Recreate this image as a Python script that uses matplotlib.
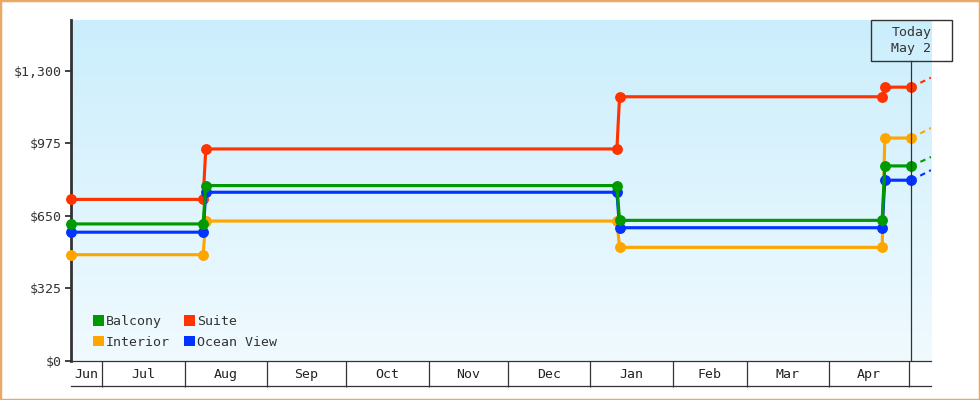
import numpy as np
import pandas as pd
import matplotlib
matplotlib.use('Agg')
import matplotlib.pyplot as plt
import matplotlib.dates as mdates
import matplotlib.transforms as mtransforms
from matplotlib.patches import Patch, Rectangle
from matplotlib.colors import LinearSegmentedColormap
from matplotlib.ticker import FuncFormatter

plt.rcParams['font.family'] = ['DejaVu Sans Mono', 'DejaVu Sans']

# precios por tipo de camarote
fechas = ['2018-06-19', '2018-08-08', '2018-08-09', '2019-01-11',
          '2019-01-12', '2019-04-21', '2019-04-22', '2019-05-02']
balcony = [613, 613, 785, 785, 629, 629, 873, 873]
interior = [475, 475, 626, 626, 508, 508, 998, 998]
suite = [723, 723, 949, 949, 1183, 1183, 1226, 1226]
ocean_view = [576, 576, 755, 755, 596, 596, 809, 809]

# proyeccion (linea punteada despues de hoy)
fecha_fin = '2019-05-09 10:00'
proy_balcony = 913
proy_interior = 1043
proy_suite = 1269
proy_ocean_view = 854

hoy = '2019-05-02'
hoy_texto = 'Today\nMay 2'
inicio = '2018-06-19'

meses = ['Jun', 'Jul', 'Aug', 'Sep', 'Oct', 'Nov', 'Dec', 'Jan', 'Feb', 'Mar', 'Apr']
y_ticks = [0, 325, 650, 975, 1300]
y_max = 1527

x = pd.to_datetime(fechas)
x0 = pd.Timestamp(inicio)
x1 = pd.Timestamp(fecha_fin)
t_hoy = pd.Timestamp(hoy)

fig = plt.figure(figsize=(9.8, 4), dpi=100)
W, H = 980, 400
ax_l, ax_r, ax_t, ax_b = 70.5, 931, 20, 360.7
ax = fig.add_axes([ax_l / W, 1 - ax_b / H, (ax_r - ax_l) / W, (ax_b - ax_t) / H])
px_w = ax_r - ax_l
px_h = ax_b - ax_t

# fondo degradado
cmap = LinearSegmentedColormap.from_list('fondo', ['#f0faff', '#cbeefc'])
grad = np.linspace(0, 1, 256).reshape(-1, 1)
ax.imshow(grad, extent=[0, 1, 0, 1], transform=ax.transAxes, cmap=cmap,
          aspect='auto', origin='lower', zorder=0)

series = [
    ('Interior', interior, proy_interior, '#ffa500'),
    ('Suite', suite, proy_suite, '#ff3300'),
    ('Ocean View', ocean_view, proy_ocean_view, '#0033ff'),
    ('Balcony', balcony, proy_balcony, '#009900'),
]
for nombre, vals, proy, color in series:
    ax.plot(x, vals, color=color, lw=2.25, marker='o', ms=6.8,
            clip_on=False, zorder=3, solid_joinstyle='miter')
    ax.plot([x[-1], x1], [vals[-1], proy], color=color, lw=1.5,
            ls=(0, (2.6, 2.2)), zorder=2)

ax.set_xlim(x0, x1)
ax.set_ylim(0, y_max)

# linea de hoy y recuadro
n0, n1, nh = mdates.date2num(x0), mdates.date2num(x1), mdates.date2num(t_hoy)
f_hoy = (nh - n0) / (n1 - n0)
caja_h = 40.7
ax.axvline(t_hoy, ymin=0, ymax=1 - caja_h / px_h, color='#333333', lw=0.9, zorder=4)
ax.add_patch(Rectangle((f_hoy - 40.3 / px_w, 1 - caja_h / px_h), 80.7 / px_w, caja_h / px_h,
                       transform=ax.transAxes, fill=False, ec='#333333', lw=1.0,
                       clip_on=False, zorder=5))
trans = mtransforms.blended_transform_factory(ax.transData, ax.transAxes)
ax.text(t_hoy, 1 - (caja_h / 2) / px_h, hoy_texto, transform=trans, ha='center',
        va='center', ma='center', fontsize=9.5, color='#333333', linespacing=1.35,
        clip_on=True, zorder=5)

# eje y
ax.yaxis.set_major_formatter(FuncFormatter(lambda v, p: f'${v:,.0f}'))
ax.set_yticks(y_ticks)
ax.tick_params(axis='y', length=4, width=1.3, pad=2, labelsize=9.5,
               colors='#333333')

# eje x: separadores de meses y etiquetas centradas
inicios = pd.date_range('2018-07-01', '2019-05-01', freq='MS')
bordes = [x0] + list(inicios)
centros = [a + (b - a) / 2 for a, b in zip(bordes[:-1], bordes[1:])]
ax.set_xticks(inicios, minor=True)
ax.set_xticks(centros)
ax.set_xticklabels(meses)
ax.tick_params(axis='x', which='minor', length=18.75, width=0.9, color='#333333')
ax.tick_params(axis='x', which='major', length=0, pad=5, labelsize=9.5,
               labelcolor='#222222')
ax.plot([0, 1], [-25 / px_h] * 2, transform=ax.transAxes, clip_on=False,
        color='#333333', lw=0.9)

for lado in ['top', 'right']:
    ax.spines[lado].set_visible(False)
ax.spines['left'].set_linewidth(2)
ax.spines['left'].set_color('#333333')
ax.spines['bottom'].set_linewidth(0.9)
ax.spines['bottom'].set_color('#333333')

# leyenda
colores = {n: c for n, _, _, c in series}
orden = ['Balcony', 'Interior', 'Suite', 'Ocean View']
handles = [Patch(facecolor=colores[n], edgecolor='none', label=n) for n in orden]
ax.legend(handles=handles, ncol=2, loc='lower left', bbox_to_anchor=(0.0256, 0.035),
          frameon=False, fontsize=9.5, handlelength=0.85, handleheight=0.85,
          handletextpad=0.15, columnspacing=1.05, labelspacing=0.58,
          borderpad=0, borderaxespad=0, labelcolor='#333333')

fig.add_artist(Rectangle((0, 0), 1, 1, transform=fig.transFigure, fill=False,
                         ec='#e8a965', lw=2.5))

fig.savefig('out.png', dpi=100)
